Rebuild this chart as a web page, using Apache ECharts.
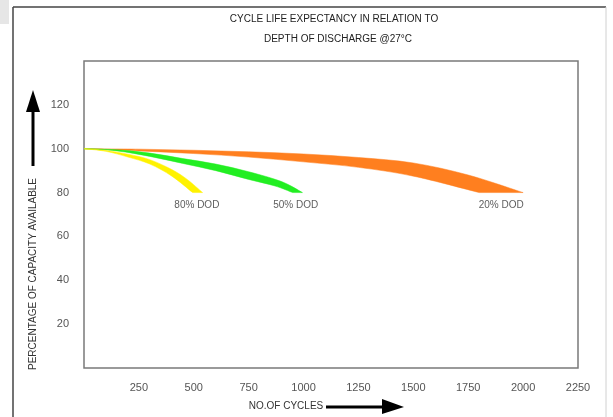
<!DOCTYPE html>
<html>
<head>
<meta charset="utf-8">
<script src="https://cdn.jsdelivr.net/npm/echarts@6/dist/echarts.min.js"></script>
<style>html,body{margin:0;padding:0;background:#fff}#c{width:613px;height:417px}</style>
</head>
<body>
<div id="c"></div>
<script>
// ---- data (cycles, % capacity) ----
const titleLines = ['CYCLE LIFE EXPECTANCY IN RELATION TO', 'DEPTH OF DISCHARGE @27\u00B0C'];
const xName = 'NO.OF CYCLES';
const yName = 'PERCENTAGE OF CAPACITY AVAILABLE';
const bandNames = ['20% DOD', '50% DOD', '80% DOD'];
const orangeUpper = [[0,100],[250,99.8],[500,99.3],[750,98.6],[1000,97.6],[1250,96],[1500,93.5],[1750,88],[2000,80]];
const orangeLower = [[0,100],[250,99],[500,97.8],[750,96.2],[1000,94],[1250,91.5],[1500,87.5],[1800,80]];
const greenUpper = [[0,100],[150,99.5],[300,98],[450,95.5],[600,93],[750,89.5],[900,85],[995,80]];
const greenLower = [[0,100],[150,99],[300,96.5],[450,93.3],[600,90],[750,86],[870,83],[950,80]];
const yellowUpper = [[0,100],[100,99.2],[200,97.5],[300,95],[400,90.5],[470,86],[540,80]];
const yellowLower = [[0,100],[100,98.8],[200,96.2],[300,93],[400,87.5],[495,80]];
const labelPos = [[1900,74],[964,74],[514,74]];

const bands = [
  {name: bandNames[0], upper: orangeUpper, lower: orangeLower, color: '#ff7f1f'},
  {name: bandNames[1], upper: greenUpper, lower: greenLower, color: '#22ee22'},
  {name: bandNames[2], upper: yellowUpper, lower: yellowLower, color: '#fff200'}
];

const chart = echarts.init(document.getElementById('c'), null, {renderer: 'canvas'});
const font = 'Liberation Sans, Arial, sans-serif';

// Catmull-Rom to bezier path segments through pixel points (rendering only)
function crPath(pts, moveFirst) {
  let d = moveFirst ? 'M' + pts[0][0] + ' ' + pts[0][1] : 'L' + pts[0][0] + ' ' + pts[0][1];
  for (let i = 0; i < pts.length - 1; i++) {
    const p0 = pts[i - 1] || pts[i];
    const p1 = pts[i];
    const p2 = pts[i + 1];
    const p3 = pts[i + 2] || p2;
    const c1x = p1[0] + (p2[0] - p0[0]) / 6, c1y = p1[1] + (p2[1] - p0[1]) / 6;
    const c2x = p2[0] - (p3[0] - p1[0]) / 6, c2y = p2[1] - (p3[1] - p1[1]) / 6;
    d += ' C' + c1x + ' ' + c1y + ' ' + c2x + ' ' + c2y + ' ' + p2[0] + ' ' + p2[1];
  }
  return d;
}

const series = bands.map(b => ({
  type: 'custom',
  name: b.name,
  coordinateSystem: 'cartesian2d',
  data: [[0, 100]],
  clip: false,
  renderItem: function (params, api) {
    const up = b.upper.map(p => api.coord(p));
    const lo = b.lower.map(p => api.coord(p)).reverse();
    const d = crPath(up, true) + ' ' + crPath(lo, false) + ' Z';
    return {type: 'path', shape: {pathData: d, layout: 'cover'}, style: {fill: b.color, stroke: b.color, lineWidth: 0.5}};
  }
}));

series.push({
  type: 'scatter',
  symbolSize: 0,
  data: labelPos.map((p, i) => ({value: p, name: bandNames[i]})),
  label: {show: true, position: 'inside', formatter: '{b}', color: '#333', fontSize: 10, fontFamily: font},
  silent: true
});

const option = {
  animation: false,
  backgroundColor: '#fff',
  grid: {left: 84, right: 35, top: 61, bottom: 49, show: true, borderColor: '#7a7a7a', borderWidth: 1.5, containLabel: false},
  xAxis: {
    type: 'value', min: 0, max: 2250, interval: 250,
    axisLine: {show: false}, axisTick: {show: false}, splitLine: {show: false},
    axisLabel: {margin: 14, color: '#555', fontSize: 11, fontFamily: font,
      formatter: v => v === 0 ? '' : String(v)}
  },
  yAxis: {
    type: 'value', min: 0, max: 140, interval: 20,
    axisLine: {show: false}, axisTick: {show: false}, splitLine: {show: false},
    axisLabel: {margin: 15, color: '#555', fontSize: 11, fontFamily: font,
      formatter: v => (v === 0 || v === 140) ? '' : String(v)}
  },
  series: series,
  graphic: [
    // outer frame
    {type: 'line', shape: {x1: 13, y1: 7, x2: 13, y2: 417}, style: {stroke: '#444', lineWidth: 1.5}},
    {type: 'line', shape: {x1: 13, y1: 7, x2: 606, y2: 7}, style: {stroke: '#444', lineWidth: 1.5}},
    {type: 'line', shape: {x1: 606, y1: 7, x2: 606, y2: 417}, style: {stroke: '#d0d0d0', lineWidth: 1}},
    {type: 'rect', shape: {x: 0, y: 0, width: 9, height: 24}, style: {fill: '#e6e6e6'}},
    // title
    {type: 'text', style: {text: titleLines[0], x: 334, y: 19, align: 'center', verticalAlign: 'middle', fill: '#222', font: '10px ' + font}},
    {type: 'text', style: {text: titleLines[1], x: 338, y: 39, align: 'center', verticalAlign: 'middle', fill: '#222', font: '10px ' + font}},
    // y axis name and arrow
    {type: 'text', x: 33, y: 274, rotation: Math.PI / 2, style: {text: yName, x: 0, y: 0, align: 'center', verticalAlign: 'middle', fill: '#333', font: '10px ' + font}},
    {type: 'line', shape: {x1: 33, y1: 166, x2: 33, y2: 106}, style: {stroke: '#000', lineWidth: 3}},
    {type: 'polygon', shape: {points: [[26, 112], [40, 112], [33, 90]]}, style: {fill: '#000'}},
    // x axis name and arrow
    {type: 'text', style: {text: xName, x: 286, y: 406, align: 'center', verticalAlign: 'middle', fill: '#333', font: '10px ' + font}},
    {type: 'line', shape: {x1: 326, y1: 407, x2: 386, y2: 407}, style: {stroke: '#000', lineWidth: 3}},
    {type: 'polygon', shape: {points: [[382, 399], [382, 414], [404, 407]]}, style: {fill: '#000'}}
  ]
};
chart.setOption(option);
</script>
</body>
</html>
